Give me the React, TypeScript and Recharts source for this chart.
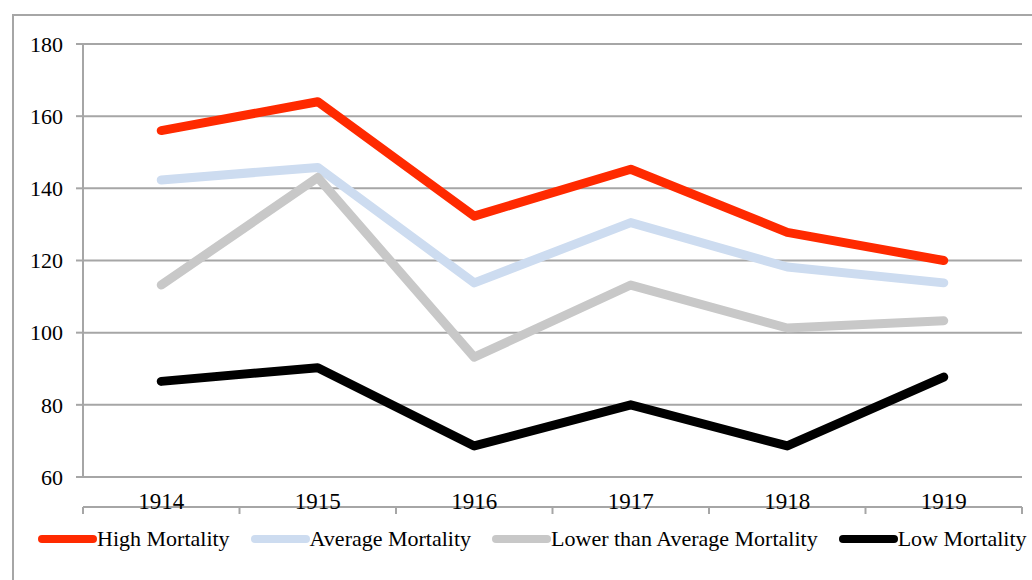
import React from "react";
import {
  LineChart,
  Line,
  XAxis,
  YAxis,
  CartesianGrid,
  Legend,
} from "recharts";

const years = ["1914", "1915", "1916", "1917", "1918", "1919"];
const highMortality = [156, 164, 132.3, 145.3, 127.8, 120];
const averageMortality = [142.3, 145.8, 113.8, 130.5, 118.2, 113.8];
const lowerThanAverage = [113.2, 143, 93.2, 113.2, 101.3, 103.3];
const lowMortality = [86.5, 90.3, 68.6, 80, 68.6, 87.7];
const yTicks = [60, 80, 100, 120, 140, 160, 180];

const series = [
  { key: "high", name: "High Mortality", color: "#ff2a00" },
  { key: "average", name: "Average Mortality", color: "#cddcf0" },
  { key: "lower", name: "Lower than Average Mortality", color: "#c8c8c8" },
  { key: "low", name: "Low Mortality", color: "#000000" },
];

const data = years.map((year, i) => ({
  year,
  x: i + 0.5,
  high: highMortality[i],
  average: averageMortality[i],
  lower: lowerThanAverage[i],
  low: lowMortality[i],
}));

const FONT = "'Liberation Serif', 'DejaVu Serif', serif";
const FONT_SIZE = 22;
const GRID = "#a6a6a6";

const LegendContent = () => (
  <div
    style={{
      display: "flex",
      alignItems: "center",
      height: 30,
      paddingLeft: 38,
      fontFamily: FONT,
      fontSize: FONT_SIZE,
      color: "#000",
      whiteSpace: "nowrap",
    }}
  >
    {series.map((s) => (
      <div
        key={s.key}
        style={{ display: "flex", alignItems: "center", marginRight: 21 }}
      >
        <svg width={59} height={10}>
          <line
            x1={4}
            y1={5}
            x2={55}
            y2={5}
            stroke={s.color}
            strokeWidth={8}
            strokeLinecap="round"
          />
        </svg>
        <span>{s.name}</span>
      </div>
    ))}
  </div>
);

export default function App() {
  return (
    <div
      style={{
        position: "absolute",
        left: 0,
        top: 0,
        width: 1032,
        height: 580,
        overflow: "hidden",
        background: "#fff",
      }}
    >
      <div
        style={{
          position: "absolute",
          left: 12,
          top: 14,
          width: 1100,
          height: 700,
          borderTop: `2px solid ${GRID}`,
          borderLeft: `2px solid ${GRID}`,
        }}
      />
      <div style={{ position: "absolute", left: 0, top: 0 }}>
        <LineChart
          width={1032}
          height={580}
          data={data}
          margin={{ top: 44, right: 10, left: 0, bottom: 35 }}
        >
          <CartesianGrid vertical={false} stroke={GRID} strokeWidth={2} />
          <XAxis
            xAxisId="marks"
            type="number"
            dataKey="x"
            domain={[0, 6]}
            ticks={[0, 1, 2, 3, 4, 5, 6]}
            tickFormatter={() => ""}
            height={8}
            tickSize={7}
            stroke={GRID}
            strokeWidth={2}
          />
          <XAxis
            xAxisId="labels"
            type="number"
            dataKey="x"
            domain={[0, 6]}
            ticks={[0.5, 1.5, 2.5, 3.5, 4.5, 5.5]}
            tickFormatter={(v: number) => years[Math.floor(v)]}
            height={30}
            axisLine={false}
            tickLine={false}
            tickSize={6}
            tickMargin={10}
            tick={{ fill: "#000", fontSize: 23, fontFamily: FONT }}
          />
          <YAxis
            domain={[60, 180]}
            ticks={yTicks}
            width={83}
            tickSize={7}
            tickMargin={13}
            stroke={GRID}
            strokeWidth={2}
            tick={{ fill: "#000", fontSize: FONT_SIZE, fontFamily: FONT }}
          />
          <Legend
            verticalAlign="bottom"
            content={<LegendContent />}
            wrapperStyle={{ top: 524, left: 0, width: 1040 }}
          />
          {series.map((s) => (
            <Line
              key={s.key}
              xAxisId="marks"
              type="linear"
              dataKey={s.key}
              name={s.name}
              stroke={s.color}
              strokeWidth={9}
              strokeLinecap="round"
              strokeLinejoin="round"
              dot={false}
              activeDot={false}
              isAnimationActive={false}
            />
          ))}
        </LineChart>
      </div>
    </div>
  );
}
